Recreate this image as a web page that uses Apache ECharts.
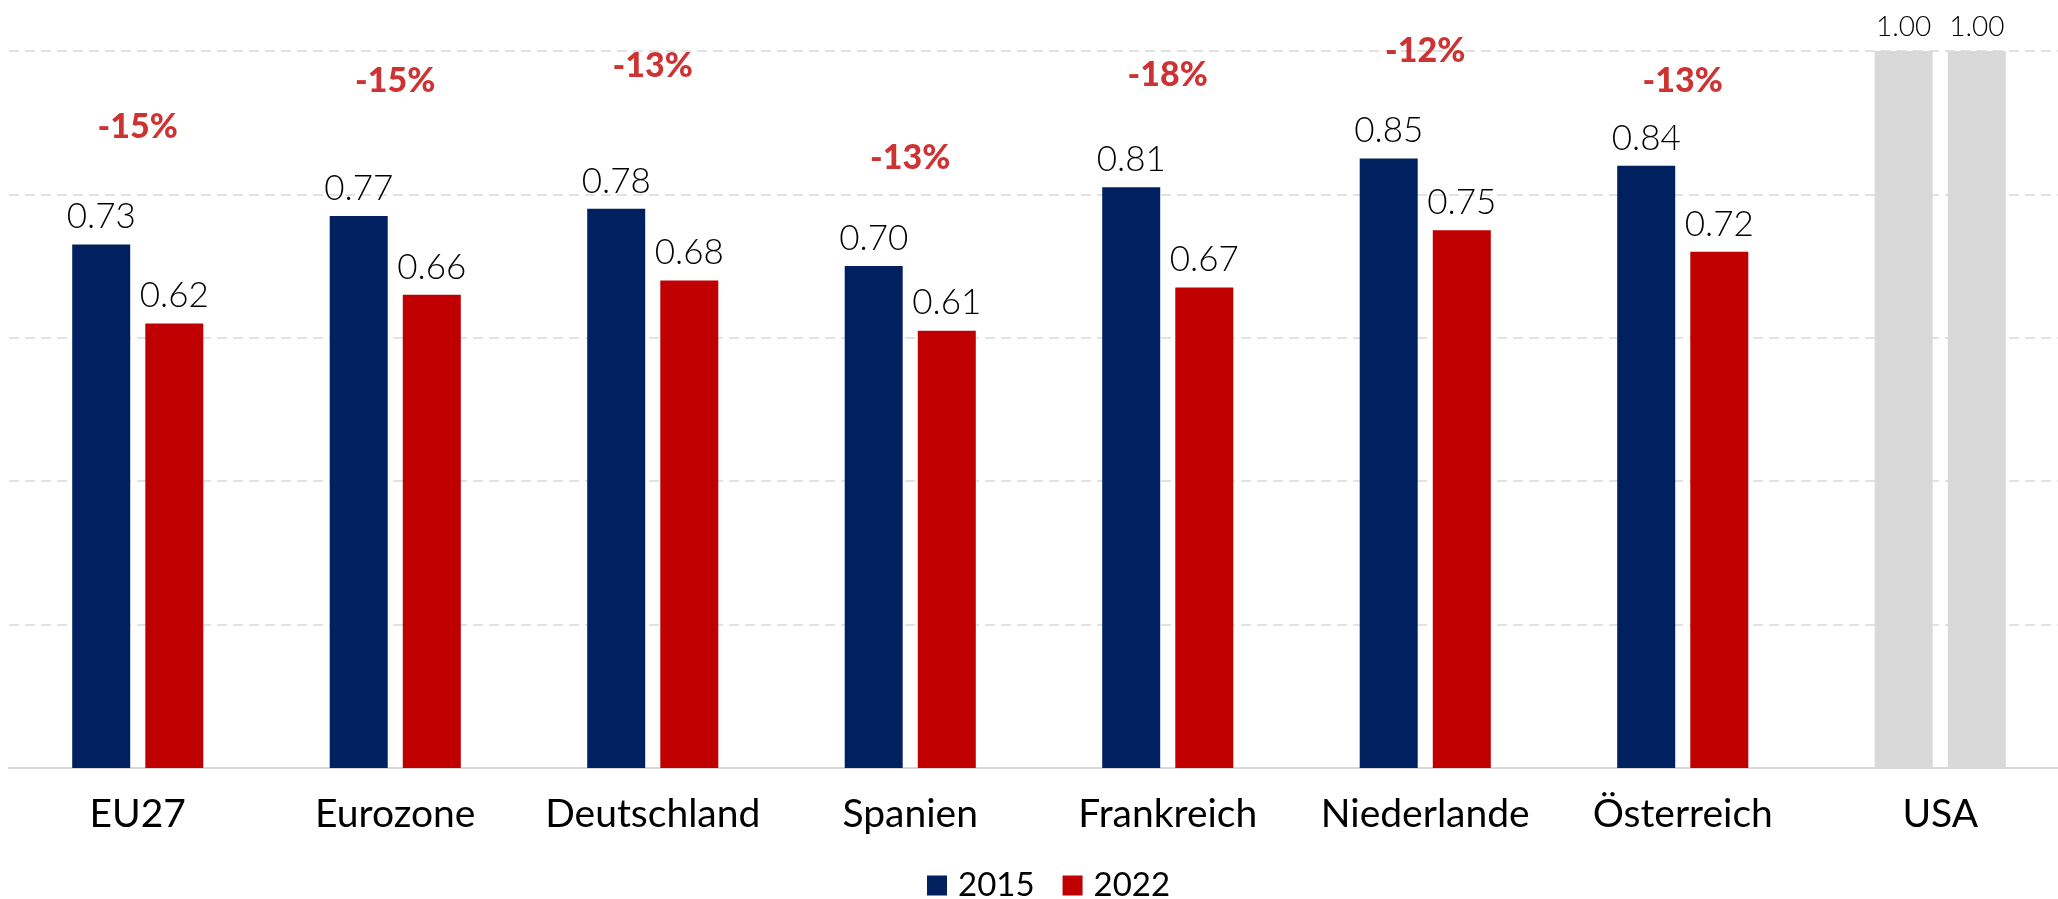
<!DOCTYPE html>
<html>
<head>
<meta charset="utf-8">
<script src="https://cdn.jsdelivr.net/npm/echarts@6/dist/echarts.min.js"></script>
<style>
  html, body { margin: 0; padding: 0; background: #ffffff; overflow: hidden; }
  #chart { width: 2070px; height: 899px; }
</style>
</head>
<body>
<div id="chart"></div>
<script>
// Daten
const categories = ['EU27', 'Eurozone', 'Deutschland', 'Spanien', 'Frankreich', 'Niederlande', 'Österreich', 'USA'];
const values2015 = [0.73, 0.77, 0.78, 0.70, 0.81, 0.85, 0.84, 1.00];
const values2022 = [0.62, 0.66, 0.68, 0.61, 0.67, 0.75, 0.72, 1.00];
const changeLabels = ['-15%', '-15%', '-13%', '-13%', '-18%', '-12%', '-13%', null];
// Höhe der Prozent-Beschriftung (in Achsen-Einheiten)
const changeHeights = [0.894, 0.958, 0.979, 0.851, 0.967, 1.0, 0.958, null];

const BLUE = '#002060';
const RED = '#c00000';
const GREY = '#d9d9d9';
const FONT = 'Lato';

function barData(values, color) {
  return values.map(function (v, i) {
    if (categories[i] === 'USA') {
      return {
        value: v,
        itemStyle: { color: GREY },
        label: { fontSize: 28, distance: 10 }
      };
    }
    return { value: v, itemStyle: { color: color } };
  });
}

function chartInit() {
  const chart = echarts.init(document.getElementById('chart'));
  const barLabel = {
    show: true,
    position: 'top',
    distance: 10,
    fontFamily: FONT,
    fontWeight: 300,
    fontSize: 35,
    color: '#000000',
    formatter: function (p) { return p.value.toFixed(2); }
  };
  chart.setOption({
    animation: false,
    grid: {
      top: 51,
      left: 9,
      right: 1,
      height: 717,
      containLabel: false
    },
    legend: {
      data: ['2015', '2022'],
      top: 864,
      left: 922,
      itemWidth: 20,
      itemHeight: 20,
      itemGap: 28,
      icon: 'rect',
      textStyle: {
        fontFamily: FONT,
        fontSize: 33,
        color: '#000000',
        padding: [0, 0, 0, 6]
      }
    },
    xAxis: {
      type: 'category',
      data: categories,
      axisLine: {
        show: true,
        lineStyle: { color: GREY, width: 2 }
      },
      axisTick: { show: false },
      axisLabel: {
        interval: 0,
        margin: 27,
        fontFamily: FONT,
        fontSize: 39,
        color: '#000000'
      }
    },
    yAxis: {
      type: 'value',
      min: 0,
      max: 1,
      interval: 0.2,
      axisLabel: { show: false },
      axisLine: { show: false },
      axisTick: { show: false },
      splitLine: {
        show: true,
        lineStyle: {
          type: [10, 6],
          color: GREY,
          width: 1.5
        }
      }
    },
    series: [
      {
        name: '2015',
        type: 'bar',
        barWidth: 58,
        barGap: '26%',
        itemStyle: { color: BLUE },
        label: barLabel,
        data: barData(values2015, BLUE)
      },
      {
        name: '2022',
        type: 'bar',
        barWidth: 58,
        barGap: '26%',
        itemStyle: { color: RED },
        label: barLabel,
        data: barData(values2022, RED)
      },
      {
        // Veränderung 2015 -> 2022
        name: 'change',
        type: 'scatter',
        symbolSize: 1,
        itemStyle: { color: 'rgba(0,0,0,0)' },
        silent: true,
        z: 5,
        label: {
          show: true,
          position: 'inside',
          fontFamily: FONT,
          fontWeight: 900,
          fontSize: 34,
          color: RED,
          formatter: function (p) { return changeLabels[p.dataIndex]; }
        },
        data: changeHeights
      }
    ]
  });
}

chartInit();
</script>
</body>
</html>
